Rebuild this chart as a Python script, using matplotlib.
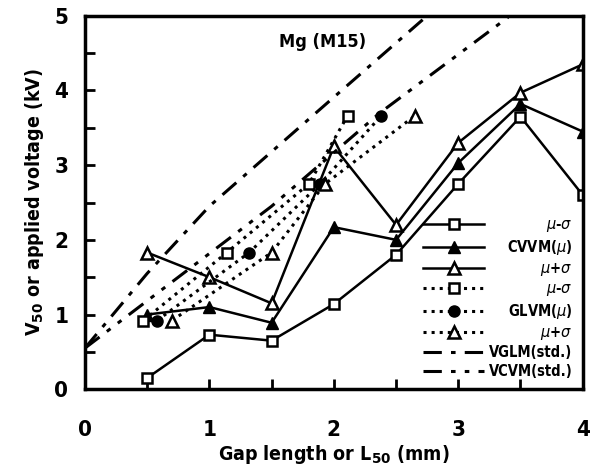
import numpy as np
import matplotlib
matplotlib.use('Agg')
import matplotlib.pyplot as plt

# CVVM data (mm, kV)
cv_x = [0.5, 1.0, 1.5, 2.0, 2.5, 3.0, 3.5, 4.0]
cv_lo = [0.15, 0.73, 0.65, 1.14, 1.80, 2.75, 3.65, 2.60]
cv_mu = [1.00, 1.10, 0.89, 2.17, 2.00, 3.03, 3.82, 3.45]
cv_hi = [1.83, 1.50, 1.15, 3.25, 2.20, 3.30, 3.97, 4.35]

# GLVM data: L50 at fixed applied voltages
gl_v = [0.92, 1.83, 2.75, 3.66]
gl_lo = [0.47, 1.14, 1.80, 2.11]
gl_mu = [0.58, 1.32, 1.89, 2.38]
gl_hi = [0.70, 1.50, 1.93, 2.65]

# standard curves
vglm_x = [0.0, 0.5, 1.0, 2.0, 2.75]
vglm_y = [0.55, 1.55, 2.45, 3.91, 5.0]
vcvm_x = [0.0, 1.5, 2.37, 3.4]
vcvm_y = [0.55, 2.45, 3.70, 4.98]

font = dict(family='DejaVu Sans', fontweight='bold', fontstretch='condensed')

fig = plt.figure(figsize=(5.94, 4.65), dpi=100)
ax = fig.add_axes([0.143, 0.163, 0.838, 0.803])

lw = 1.8
ms = 7
ax.plot(cv_x, cv_lo, '-s', color='k', lw=lw, ms=ms, mfc='w', mew=1.8, label=r'$\mu$-$\sigma$')
ax.plot(cv_x, cv_mu, '-^', color='k', lw=lw, ms=ms + 1, mfc='k', label=r'CVVM($\mu$)')
ax.plot(cv_x, cv_hi, '-^', color='k', lw=lw, ms=ms + 1, mfc='w', mew=1.8, label=r'$\mu$+$\sigma$')
ax.plot(gl_lo, gl_v, ':s', color='k', lw=2.2, ms=ms, mfc='w', mew=1.8, label=r'$\mu$-$\sigma$')
ax.plot(gl_mu, gl_v, ':o', color='k', lw=2.2, ms=ms + 1, mfc='k', label=r'GLVM($\mu$)')
ax.plot(gl_hi, gl_v, ':^', color='k', lw=2.2, ms=ms + 1, mfc='w', mew=1.8, label=r'$\mu$+$\sigma$')
ax.plot(vglm_x, vglm_y, color='k', lw=2.2, dashes=[6, 3, 1.5, 3], label='VGLM(std.)')
ax.plot(vcvm_x, vcvm_y, color='k', lw=2.2, dashes=[6, 3, 1.5, 3, 1.5, 3], label='VCVM(std.)')

ax.set_xlim(0, 4)
ax.set_ylim(0, 5)
ax.set_xticks(np.arange(0, 4.1, 1))
ax.set_yticks(np.arange(0, 5.1, 1))
ax.set_xticks(np.arange(0, 4.1, 0.5), minor=True)
ax.set_yticks(np.arange(0, 5.1, 0.5), minor=True)
ax.tick_params(which='both', direction='in', width=2, length=7, top=False, right=False)
ax.tick_params(axis='x', which='major', pad=22)
ax.tick_params(axis='y', which='major', pad=12)
for lab in ax.get_xticklabels() + ax.get_yticklabels():
    lab.set_fontsize(16)
    lab.set_fontweight('bold')
    lab.set_fontstretch('condensed')
for sp in ax.spines.values():
    sp.set_linewidth(2.5)

ax.set_xlabel(r'Gap length or L$_{\mathbf{50}}$ (mm)', fontsize=14, labelpad=2, **font)
ax.set_ylabel(r'V$_{\mathbf{50}}$ or applied voltage (kV)', fontsize=14, labelpad=6, **font)
ax.text(1.91, 4.65, 'Mg (M15)', fontsize=13, ha='center', va='center', **font)

leg = ax.legend(loc='lower right', frameon=False, handlelength=4.2,
                labelspacing=0.25, borderaxespad=0.3, handletextpad=0.3,
                prop=dict(family='DejaVu Sans', weight='bold', stretch='condensed', size=10.5))

# right-align the legend labels
fig.canvas.draw()
rend = fig.canvas.get_renderer()
widths = [t.get_window_extent(rend).width for t in leg.get_texts()]
for t, w in zip(leg.get_texts(), widths):
    t.set_x(max(widths) - w)

fig.savefig('out.png', dpi=100)
